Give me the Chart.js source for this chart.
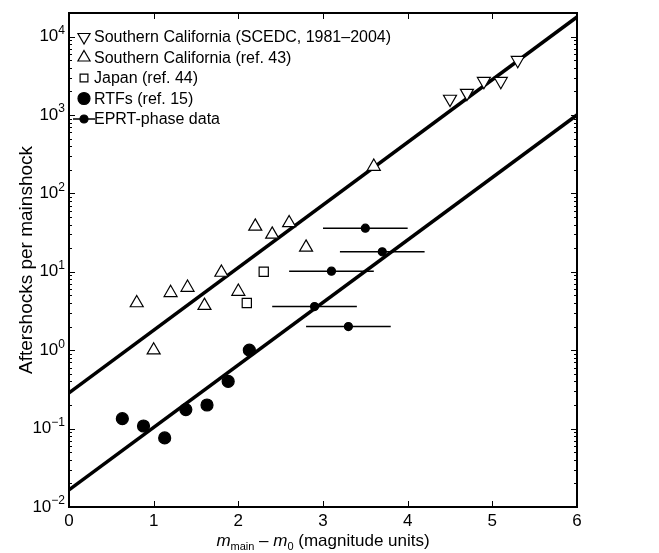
<!DOCTYPE html>
<html>
<head>
<meta charset="utf-8">
<script src="https://cdn.jsdelivr.net/npm/chart.js@4.4.1/dist/chart.umd.min.js"></script>
<style>
  html, body { margin: 0; padding: 0; background: #fff; }
</style>
</head>
<body>
<canvas id="chart" width="659" height="553"></canvas>
<script>
// values
const scedcX = [4.5, 4.7, 4.9, 5.1, 5.3]
const scedcY = [1600, 1900, 2700, 2700, 5000]
const ref43X = [0.8, 1.0, 1.2, 1.4, 1.6, 1.8, 2.0, 2.2, 2.4, 2.6, 2.8, 3.6]
const ref43Y = [4.0, 1.0, 5.4, 6.3, 3.7, 9.8, 5.6, 38, 30, 42, 20.5, 220]
const japanX = [2.1, 2.3]
const japanY = [4.0, 10]
const rtfX = [0.63, 0.88, 1.13, 1.38, 1.63, 1.88, 2.13]
const rtfY = [0.134, 0.108, 0.076, 0.175, 0.2, 0.4, 1.0]
const eprtX = [2.9, 3.1, 3.3, 3.5, 3.7]
const eprtY = [3.6, 10.2, 2.0, 36, 18]
const eprtErr = [0.5, 0.5, 0.5, 0.5, 0.5]
const fitX = [0, 6]
const upperFitY = [0.285, 17800]
const lowerFitY = [0.0165, 1000]

const xTicks = [0, 1, 2, 3, 4, 5, 6]
const yTickExponents = ['\u22122', '\u22121', '0', '1', '2', '3', '4']

const legendLabels = [
  'Southern California (SCEDC, 1981\u20132004)',
  'Southern California (ref. 43)',
  'Japan (ref. 44)',
  'RTFs (ref. 15)',
  'EPRT-phase data'
]

const FONT = '"Liberation Sans", Arial, Helvetica, sans-serif'

function pts(xs, ys) {
  return xs.map((x, i) => ({ x: x, y: ys[i] }))
}

const markerSets = [
  { data: pts(scedcX, scedcY), pointStyle: 'triangle', rotation: 180, radius: 7.5, fill: '#fff' },
  { data: pts(ref43X, ref43Y), pointStyle: 'triangle', rotation: 0, radius: 7.5, fill: '#fff' },
  { data: pts(japanX, japanY), pointStyle: 'rect', rotation: 0, radius: 6.5, fill: '#fff' },
  { data: pts(rtfX, rtfY), pointStyle: 'circle', rotation: 0, radius: 6, fill: '#000' },
  { data: pts(eprtX, eprtY), pointStyle: 'circle', rotation: 0, radius: 4, fill: '#000' }
]

const datasets = markerSets.map((m, i) => ({
  label: legendLabels[i],
  data: m.data,
  showLine: false,
  pointStyle: m.pointStyle,
  pointRotation: m.rotation,
  pointRadius: m.radius,
  pointBackgroundColor: m.fill,
  pointBorderColor: '#000',
  pointBorderWidth: 1.2
}))

// fit lines go last so they are painted underneath the markers
datasets.push({
  label: 'fit upper',
  data: pts(fitX, upperFitY),
  showLine: true,
  borderColor: '#000',
  borderWidth: 3.5,
  pointRadius: 0
})
datasets.push({
  label: 'fit lower',
  data: pts(fitX, lowerFitY),
  showLine: true,
  borderColor: '#000',
  borderWidth: 3.5,
  pointRadius: 0
})

// horizontal error bars on the EPRT points
const errorBars = {
  id: 'errorBars',
  beforeDatasetsDraw(chart) {
    const ctx = chart.ctx
    const xs = chart.scales.x
    const ys = chart.scales.y
    ctx.save()
    ctx.strokeStyle = '#000'
    ctx.lineWidth = 1.5
    eprtX.forEach((x, i) => {
      const py = ys.getPixelForValue(eprtY[i])
      ctx.beginPath()
      ctx.moveTo(xs.getPixelForValue(x - eprtErr[i]), py)
      ctx.lineTo(xs.getPixelForValue(x + eprtErr[i]), py)
      ctx.stroke()
    })
    ctx.restore()
  }
}

// box, inward ticks, labels and titles
const frame = {
  id: 'frame',
  afterDraw(chart) {
    const ctx = chart.ctx
    const a = chart.chartArea
    const xs = chart.scales.x
    const ys = chart.scales.y
    ctx.save()
    ctx.strokeStyle = '#000'
    ctx.fillStyle = '#000'

    // y ticks (major + minor on both sides)
    ctx.lineWidth = 1
    for (let e = -2; e <= 4; e++) {
      for (let m = 1; m <= 9; m++) {
        const v = m * Math.pow(10, e)
        if (v > ys.max) break
        const py = Math.round(ys.getPixelForValue(v)) + 0.5
        const len = m === 1 ? 6 : 3
        ctx.beginPath()
        ctx.moveTo(a.left, py); ctx.lineTo(a.left + len, py)
        ctx.moveTo(a.right, py); ctx.lineTo(a.right - len, py)
        ctx.stroke()
      }
    }
    // x ticks top and bottom
    xTicks.forEach(t => {
      const px = Math.round(xs.getPixelForValue(t)) + 0.5
      ctx.beginPath()
      ctx.moveTo(px, a.bottom); ctx.lineTo(px, a.bottom - 6)
      ctx.moveTo(px, a.top); ctx.lineTo(px, a.top + 6)
      ctx.stroke()
    })

    // box
    ctx.lineWidth = 2
    ctx.strokeRect(a.left, a.top, a.right - a.left, a.bottom - a.top)

    // x tick labels
    ctx.font = '17px ' + FONT
    ctx.textAlign = 'center'
    ctx.textBaseline = 'middle'
    xTicks.forEach(t => {
      ctx.fillText(String(t), xs.getPixelForValue(t), a.bottom + 14)
    })

    // y tick labels 10^n
    yTickExponents.forEach((ex, i) => {
      const py = ys.getPixelForValue(Math.pow(10, i - 2))
      ctx.textAlign = 'right'
      ctx.font = '12px ' + FONT
      const right = a.left - 4
      const ew = ctx.measureText(ex).width
      ctx.fillText(ex, right, py - 6)
      ctx.font = '17px ' + FONT
      ctx.fillText('10', right - ew, py)
    })

    // y title
    ctx.save()
    ctx.translate(27, (a.top + a.bottom) / 2)
    ctx.rotate(-Math.PI / 2)
    ctx.textAlign = 'center'
    ctx.font = '19px ' + FONT
    ctx.fillText('Aftershocks per mainshock', 0, 0)
    ctx.restore()

    // x title: m_main - m_0 (magnitude units)
    const parts = [
      { t: 'm', f: 'italic 17px ', dy: 0 },
      { t: 'main', f: '11px ', dy: 4 },
      { t: ' \u2013 ', f: '17px ', dy: 0 },
      { t: 'm', f: 'italic 17px ', dy: 0 },
      { t: '0', f: '11px ', dy: 4 },
      { t: ' (magnitude units)', f: '17px ', dy: 0 }
    ]
    let total = 0
    parts.forEach(p => { ctx.font = p.f + FONT; p.w = ctx.measureText(p.t).width; total += p.w })
    let x = (a.left + a.right) / 2 - total / 2
    ctx.textAlign = 'left'
    ctx.textBaseline = 'alphabetic'
    parts.forEach(p => {
      ctx.font = p.f + FONT
      ctx.fillText(p.t, x, 546 + p.dy)
      x += p.w
    })

    // legend
    const rowY = [37, 57.5, 78, 98.5, 119]
    const mx = 84
    ctx.textBaseline = 'middle'
    ctx.font = '16px ' + FONT
    markerSets.forEach((m, i) => {
      const y = rowY[i]
      if (i === 4) {
        ctx.lineWidth = 1.5
        ctx.beginPath()
        ctx.moveTo(mx - 11, y); ctx.lineTo(mx + 11, y)
        ctx.stroke()
      }
      ctx.lineWidth = 1.2
      ctx.fillStyle = m.fill
      Chart.helpers.drawPoint(ctx, {
        pointStyle: m.pointStyle,
        rotation: m.rotation,
        radius: i === 2 ? 5.5 : (i === 0 || i === 1 ? 7 : m.radius),
        borderWidth: 1.2
      }, mx, y)
      ctx.fillStyle = '#000'
      ctx.fillText(legendLabels[i], mx + 10, y + 1)
    })
    ctx.restore()
  }
}

new Chart(document.getElementById('chart'), {
  type: 'scatter',
  data: { datasets: datasets },
  options: {
    responsive: false,
    animation: false,
    devicePixelRatio: 1,
    layout: { padding: { top: 13, right: 82, left: 0, bottom: 0 } },
    plugins: {
      legend: { display: false },
      tooltip: { enabled: false }
    },
    scales: {
      x: {
        type: 'linear',
        min: 0,
        max: 6,
        grid: { display: false },
        border: { display: false },
        ticks: { display: false },
        afterFit: s => { s.height = 46 }
      },
      y: {
        type: 'logarithmic',
        min: 0.01,
        max: 20000,
        grid: { display: false },
        border: { display: false },
        ticks: { display: false },
        afterFit: s => { s.width = 69 }
      }
    }
  },
  plugins: [errorBars, frame]
})
</script>
</body>
</html>
